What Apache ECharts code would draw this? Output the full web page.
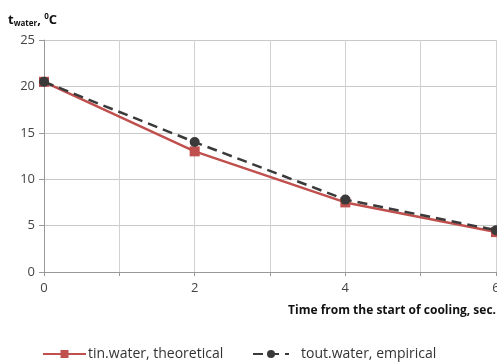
<!DOCTYPE html>
<html><head><meta charset="utf-8">
<script src="https://cdn.jsdelivr.net/npm/echarts@6/dist/echarts.min.js"></script>
<style>html,body{margin:0;padding:0;background:#fff}#c{width:497px;height:363px}</style>
</head><body><div id="c"></div>
<script>
var times = [0, 2, 4, 6];
var theoretical = [20.5, 13.0, 7.5, 4.3];
var empirical = [20.5, 14.0, 7.8, 4.5];
var yTicks = [0, 5, 10, 15, 20, 25];
var xLabels = ['0', '2', '4', '6'];
var seriesNames = ['tin.water, theoretical', 'tout.water, empirical'];
var xTitle = 'Time from the start of cooling, sec.';

var font = 'Open Sans';
var chart = echarts.init(document.getElementById('c'));
chart.setOption({
  animation: false,
  textStyle: {fontFamily: font},
  grid: {left: 44, right: 1, top: 40, bottom: 91, outerBoundsMode: 'none', containLabel: false},
  xAxis: {
    type: 'value', min: 0, max: 6, interval: 1,
    axisLine: {show: true, lineStyle: {color: '#999', width: 1}},
    axisTick: {show: true, length: 4, lineStyle: {color: '#999'}},
    splitLine: {show: true, lineStyle: {color: '#d0d0d0'}},
    axisLabel: {color: '#444', fontSize: 13, margin: 10, showMaxLabel: true,
      formatter: function (v) { return xLabels.indexOf(String(v)) >= 0 ? String(v) : ''; }},
    name: xTitle, nameLocation: 'end', nameGap: 0,
    nameTextStyle: {fontWeight: 'bold', fontSize: 12, color: '#111', align: 'right', verticalAlign: 'top', padding: [33, 0, 0, 0]}
  },
  yAxis: {
    type: 'value', min: yTicks[0], max: yTicks[yTicks.length - 1], interval: 5,
    axisLine: {show: true, lineStyle: {color: '#999'}},
    axisTick: {show: true, length: 5, lineStyle: {color: '#999'}},
    splitLine: {show: true, lineStyle: {color: '#c8c8c8'}},
    axisLabel: {color: '#444', fontSize: 13, margin: 9},
    name: '{t|t}{s|water}{t|, }{s2|0}{t|C}', nameLocation: 'end', nameGap: 0,
    nameTextStyle: {align: 'left', padding: [0, 0, 12, -36],
      rich: {t: {fontWeight: 'bold', fontSize: 13, color: '#111', fontFamily: font},
             s: {fontWeight: 'bold', fontSize: 8, color: '#111', padding: [8, 0, 0, 0], fontFamily: font},
             s2: {fontWeight: 'bold', fontSize: 8, color: '#111', padding: [0, 0, 6, 0], fontFamily: font}}}
  },
  legend: [
    {top: 342, left: 37, itemWidth: 43, itemHeight: 10, itemGap: 0,
     textStyle: {fontSize: 14, color: '#333', fontFamily: font, padding: [0, 0, 0, -3]},
     data: [seriesNames[0]]},
    {top: 342, left: 247, itemWidth: 36, itemHeight: 10, itemGap: 0,
     textStyle: {fontSize: 14, color: '#333', fontFamily: font, padding: [0, 0, 0, 7]},
     data: [seriesNames[1]]}
  ],
  series: [
    {name: seriesNames[0], type: 'line', data: times.map(function (t, i) { return [t, theoretical[i]]; }),
     symbol: 'rect', symbolSize: 10, lineStyle: {color: '#C0504D', width: 2.5},
     itemStyle: {color: '#C0504D'}, z: 2},
    {name: seriesNames[1], type: 'line', data: times.map(function (t, i) { return [t, empirical[i]]; }),
     symbol: 'circle', symbolSize: 10, lineStyle: {color: '#3a3a3a', width: 2.5, type: [10, 6]},
     itemStyle: {color: '#3a3a3a'}, z: 3}
  ]
});
</script></body></html>
